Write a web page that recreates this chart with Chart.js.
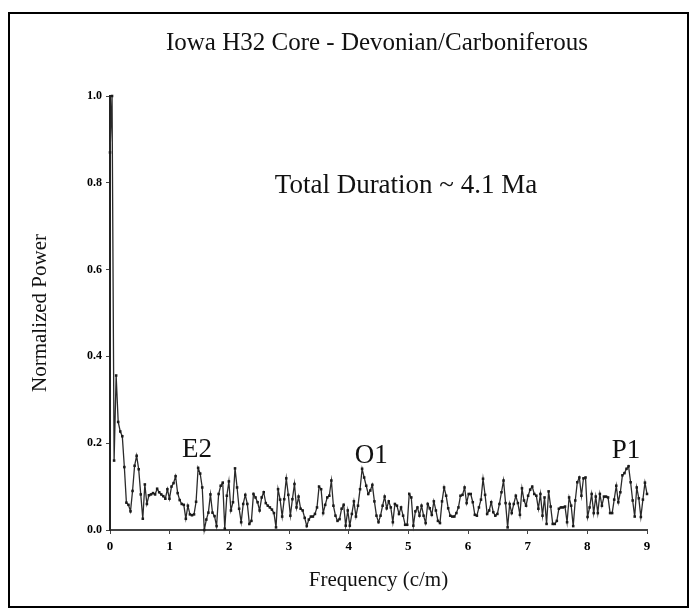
<!DOCTYPE html>
<html>
<head>
<meta charset="utf-8">
<script src="https://cdn.jsdelivr.net/npm/chart.js@4/dist/chart.umd.min.js"></script>
<style>
  html, body { margin: 0; padding: 0; background: #fff; }
  #wrap { width: 696px; height: 610px; position: relative; }
</style>
</head>
<body>
<div id="wrap"><canvas id="spectrum" width="696" height="610"></canvas></div>
<script>
// normalized spectral power, evenly spaced from 0 to 9 c/m
const power = [
  0.87, 1.0, 0.16, 0.356, 0.249, 0.227, 0.216, 0.145, 0.063, 0.058,
  0.043, 0.09, 0.148, 0.171, 0.14, 0.082, 0.026, 0.105, 0.06, 0.08,
  0.082, 0.085, 0.082, 0.095, 0.087, 0.082, 0.078, 0.072, 0.094, 0.072,
  0.1, 0.108, 0.124, 0.085, 0.069, 0.06, 0.058, 0.026, 0.056, 0.036,
  0.034, 0.036, 0.065, 0.143, 0.13, 0.098, 0.0, 0.024, 0.04, 0.082,
  0.04, 0.032, 0.009, 0.083, 0.102, 0.109, 0.003, 0.079, 0.112, 0.045,
  0.064, 0.142, 0.098, 0.049, 0.018, 0.06, 0.081, 0.06, 0.014, 0.021,
  0.083, 0.075, 0.064, 0.045, 0.075, 0.087, 0.062, 0.056, 0.052, 0.047,
  0.039, 0.006, 0.094, 0.07, 0.031, 0.071, 0.119, 0.081, 0.033, 0.071,
  0.106, 0.052, 0.077, 0.049, 0.045, 0.028, 0.009, 0.024, 0.031, 0.031,
  0.037, 0.052, 0.1, 0.094, 0.039, 0.058, 0.075, 0.079, 0.114, 0.056,
  0.033, 0.021, 0.025, 0.049, 0.058, 0.01, 0.045, 0.01, 0.037, 0.066,
  0.031, 0.056, 0.094, 0.141, 0.121, 0.102, 0.083, 0.091, 0.104, 0.066,
  0.033, 0.018, 0.033, 0.056, 0.077, 0.05, 0.066, 0.052, 0.018, 0.06,
  0.056, 0.037, 0.052, 0.033, 0.012, 0.012, 0.083, 0.075, 0.01, 0.043,
  0.052, 0.033, 0.056, 0.033, 0.016, 0.06, 0.05, 0.035, 0.066, 0.045,
  0.021, 0.016, 0.066, 0.098, 0.079, 0.05, 0.033, 0.031, 0.031, 0.039,
  0.052, 0.079, 0.081, 0.098, 0.062, 0.083, 0.083, 0.064, 0.035, 0.033,
  0.052, 0.07, 0.118, 0.081, 0.037, 0.045, 0.064, 0.041, 0.033, 0.037,
  0.06, 0.087, 0.114, 0.062, 0.006, 0.06, 0.039, 0.06, 0.079, 0.062,
  0.035, 0.096, 0.068, 0.056, 0.079, 0.093, 0.1, 0.083, 0.079, 0.049,
  0.083, 0.033, 0.075, 0.014, 0.089, 0.054, 0.014, 0.014, 0.021, 0.049,
  0.052, 0.052, 0.054, 0.018, 0.075, 0.056, 0.009, 0.068, 0.11, 0.121,
  0.079, 0.119, 0.121, 0.03, 0.052, 0.083, 0.039, 0.077, 0.039, 0.083,
  0.056, 0.077, 0.077, 0.075, 0.039, 0.039, 0.07, 0.102, 0.064, 0.087,
  0.126, 0.131, 0.141, 0.147, 0.11, 0.068, 0.031, 0.098, 0.073, 0.03,
  0.07, 0.109, 0.083
];

const freqMax = 9;
const freqs = power.map((_, i) => freqMax * i / (power.length - 1));

const xTickValues = [0, 1, 2, 3, 4, 5, 6, 7, 8, 9];
const yTickValues = [0, 0.2, 0.4, 0.6, 0.8, 1.0];

// labelled peaks: name, frequency, level of the label baseline
const peakNames = ['E2', 'O1', 'P1'];
const peakFreqs = [1.46, 4.38, 8.65];
const peakLevels = [0.168, 0.155, 0.166];

const chartTitle = 'Iowa H32 Core - Devonian/Carboniferous';
const durationNote = 'Total Duration ~ 4.1 Ma';

const serif = '"Liberation Serif", "Times New Roman", serif';

const decorations = {
    id: 'decorations',
    beforeDraw(chart) {
        const ctx = chart.ctx;
        ctx.save();
        ctx.fillStyle = '#fff';
        ctx.fillRect(0, 0, chart.width, chart.height);
        ctx.restore();
    },
    afterDraw(chart) {
        const ctx = chart.ctx;
        const xs = chart.scales.x, ys = chart.scales.y;
        ctx.save();
        // outer frame
        ctx.strokeStyle = '#000';
        ctx.lineWidth = 2;
        ctx.strokeRect(9, 13, 679, 594);

        ctx.fillStyle = '#111';
        ctx.textAlign = 'center';
        ctx.textBaseline = 'middle';
        ctx.font = '25px ' + serif;
        ctx.fillText(chartTitle, 377, 43);

        ctx.font = '27px ' + serif;
        ctx.fillText(durationNote, 406, 186);

        ctx.font = '27px ' + serif;
        ctx.textBaseline = 'alphabetic';
        peakNames.forEach((name, i) => {
            ctx.fillText(name, xs.getPixelForValue(peakFreqs[i]), ys.getPixelForValue(peakLevels[i]));
        });
        ctx.restore();
    }
};

new Chart(document.getElementById('spectrum'), {
    type: 'line',
    data: {
        datasets: [{
            data: freqs.map((f, i) => ({ x: f, y: power[i] })),
            borderColor: '#2a2a2a',
            borderWidth: 1.3,
            pointStyle: 'rect',
            pointRadius: 1.8,
            pointBackgroundColor: '#1a1a1a',
            pointBorderWidth: 0,
            tension: 0,
            clip: false
        }]
    },
    options: {
        responsive: false,
        animation: false,
        layout: { padding: { top: 96, right: 49, bottom: 0, left: 0 } },
        plugins: { legend: { display: false }, tooltip: { enabled: false } },
        scales: {
            x: {
                type: 'linear',
                min: 0,
                max: freqMax,
                afterFit: s => { s.height = 80; },
                afterBuildTicks: s => { s.ticks = xTickValues.map(v => ({ value: v })); },
                grid: { drawOnChartArea: false, drawTicks: true, tickLength: 4, color: '#444' },
                border: { color: '#444', width: 2 },
                ticks: {
                    color: '#000', padding: 5, maxRotation: 0,
                    font: { family: serif, size: 13, weight: 'bold' },
                    callback: v => v
                },
                title: {
                    display: true, text: 'Frequency (c/m)', color: '#111',
                    font: { family: serif, size: 21 }, padding: { top: 0, bottom: 17 }
                }
            },
            y: {
                min: 0,
                max: 1,
                afterFit: s => { s.width = 110; },
                afterBuildTicks: s => { s.ticks = yTickValues.map(v => ({ value: v })); },
                grid: { drawOnChartArea: false, drawTicks: true, tickLength: 4, color: '#444' },
                border: { color: '#222', width: 2 },
                ticks: {
                    color: '#000', padding: 4,
                    font: { family: serif, size: 12, weight: 'bold' },
                    callback: v => v.toFixed(1)
                },
                title: {
                    display: true, text: 'Normalized Power', color: '#111',
                    font: { family: serif, size: 21 }, padding: { top: 28, bottom: 0 }
                }
            }
        }
    },
    plugins: [decorations]
});
</script>
</body>
</html>
